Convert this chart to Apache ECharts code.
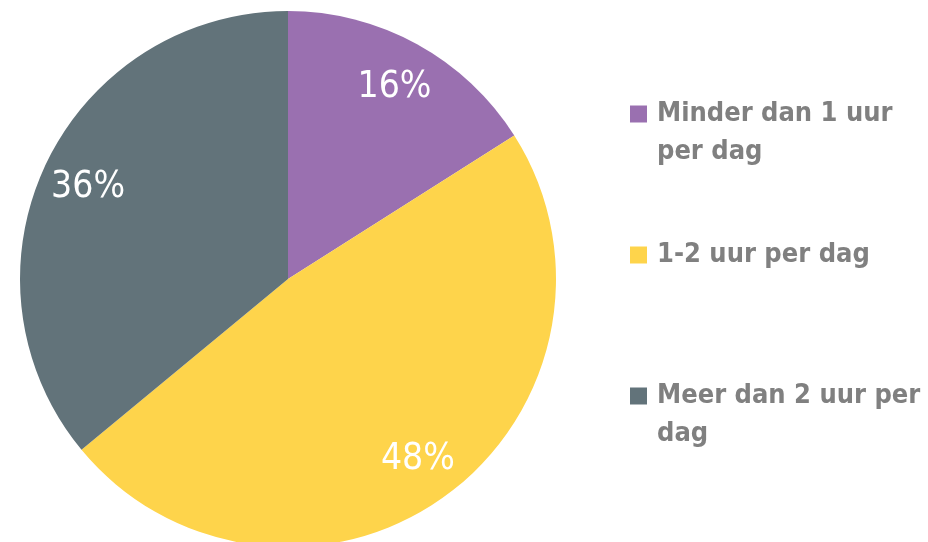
<!DOCTYPE html>
<html>
<head>
<meta charset="utf-8">
<script src="https://cdn.jsdelivr.net/npm/echarts@6/dist/echarts.min.js"></script>
<style>html,body{margin:0;padding:0;background:#fff}#c{width:928px;height:542px}</style>
</head>
<body>
<div id="c"></div>
<script>
var categories = ['Minder dan 1 uur per dag', '1-2 uur per dag', 'Meer dan 2 uur per dag'];
var legendLabels = ['Minder dan 1 uur\nper dag', '1-2 uur per dag', 'Meer dan 2 uur per\ndag'];
var values = [16, 48, 36];
var colors = ['#9a70b0', '#fed44b', '#62737a'];

var chart = echarts.init(document.getElementById('c'), null, {renderer: 'canvas'});
var pieData = categories.map(function (c, i) { return {name: c, value: values[i], itemStyle: {color: colors[i]}}; });
var labelData = categories.map(function (c, i) { return {name: c, value: values[i]}; });

var LH = 38;
var iconTops = [105, 246, 387];
var legends = categories.map(function (c, i) {
  var lines = legendLabels[i].split('\n');
  var multi = lines.length > 1;
  var txt = (multi ? '\n' : '') + lines.map(function (l) { return '{a|' + l + '}'; }).join('\n');
  return {
    left: 630, top: iconTops[i] + 9 - (multi ? 1.5 * LH : 0.5 * LH), orient: 'vertical', padding: 0,
    icon: 'rect', itemWidth: 17, itemHeight: 17, selectedMode: false,
    formatter: function () { return txt; },
    textStyle: {
      fontFamily: '"DejaVu Sans Condensed", "DejaVu Sans"', fontWeight: 'bold',
      fontSize: 27, color: '#808080', lineHeight: LH,
      rich: {a: {
        fontFamily: '"DejaVu Sans Condensed", "DejaVu Sans"', fontWeight: 'bold',
        fontSize: 27, color: '#808080', lineHeight: LH, padding: [0, 0, 0, 5]
      }}
    },
    data: [c]
  };
});

chart.setOption({
  animation: false,
  legend: legends,
  series: [
    {
      type: 'pie', center: [288, 279], radius: 268, startAngle: 90, clockwise: true,
      silent: true, label: {show: false}, labelLine: {show: false},
      itemStyle: {borderWidth: 0}, data: pieData
    },
    {
      type: 'pie', center: [288, 281], radius: [168, 268], startAngle: 90, clockwise: true,
      silent: true, itemStyle: {color: 'rgba(0,0,0,0)'}, labelLine: {show: false},
      label: {
        show: true, position: 'inside', formatter: '{c}%', color: '#ffffff',
        fontFamily: '"DejaVu Sans Condensed", "DejaVu Sans"', fontSize: 37
      },
      data: labelData
    }
  ]
});
</script>
</body>
</html>
